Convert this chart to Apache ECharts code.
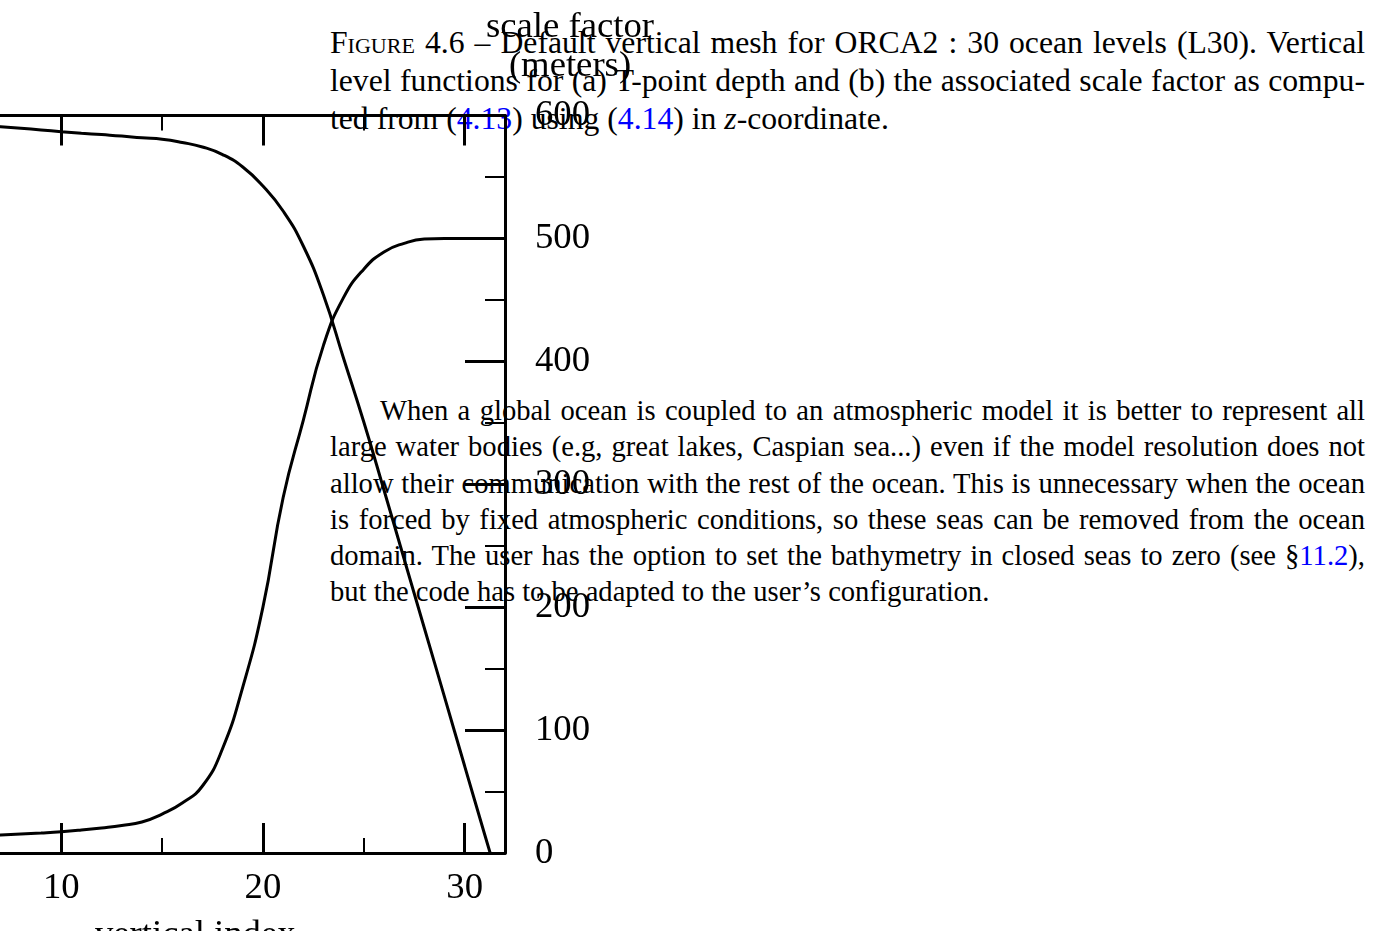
<!DOCTYPE html>
<html>
<head>
<meta charset="utf-8">
<title>ORCA2 L30 vertical mesh</title>
<script src="https://cdn.jsdelivr.net/npm/echarts@6/dist/echarts.min.js"></script>
<style>
html, body { margin: 0; padding: 0; background: #fff; }
body { width: 1376px; height: 931px; overflow: hidden; position: relative;
       font-family: "Liberation Serif", "Times New Roman", serif; color: #000; }
.txt { position: absolute; left: 330px; width: 1035px; }
.txt div { text-align: justify; text-align-last: justify; white-space: nowrap; }
.txt div.last { text-align-last: left; }
#caption { top: 24px; line-height: 38px; font-size: 31.7px; }
#para { top: 393px; line-height: 36.3px; font-size: 28.6px; }
.sc { font-variant: small-caps; }
.lnk { color: #0000ff; }
#main { position: absolute; left: -141px; top: 0; width: 1517px; height: 931px; }
</style>
</head>
<body>
<div id="caption" class="txt">
  <div><span class="sc">Figure</span> 4.6 – Default vertical mesh for ORCA2 : 30 ocean levels (L30). Vertical</div>
  <div>level functions for (a) T-point depth and (b) the associated scale factor as compu-</div>
  <div class="last">ted from (<span class="lnk">4.13</span>) using (<span class="lnk">4.14</span>) in <i>z</i>-coordinate.</div>
</div>
<div id="para" class="txt">
  <div style="padding-left:50px">When a global ocean is coupled to an atmospheric model it is better to represent all</div>
  <div>large water bodies (e.g, great lakes, Caspian sea...) even if the model resolution does not</div>
  <div>allow their communication with the rest of the ocean. This is unnecessary when the ocean</div>
  <div>is forced by fixed atmospheric conditions, so these seas can be removed from the ocean</div>
  <div>domain. The user has the option to set the bathymetry in closed seas to zero (see §<span class="lnk">11.2</span>),</div>
  <div class="last">but the code has to be adapted to the user’s configuration.</div>
</div>
<div id="main"></div>
<script>
// vertical index (model level)
var levels = [0, 1, 2, 3, 4, 5, 6, 7, 8, 9, 10, 11, 12, 13, 14, 15, 16,
              17, 18, 19, 20, 21, 22, 23, 24, 25, 26, 27, 28, 29, 30, 31, 32];
// scale factor e3 (meters), right axis
var scaleFactor = [9.1, 9.9, 10.7, 11.5, 12.3, 13.1, 13.9, 14.7, 15.5, 16.3, 17.3,
                   18.7, 20.4, 22.4, 25.2, 31.7, 40.7, 54.5, 85, 135, 200, 289,
                   352, 413, 452, 475, 489, 496, 499.5, 500, 500, 500, 500];
// T-point depth (meters), hidden left axis, downward
var depth = [0, 11, 23, 34, 46, 57, 69, 80, 91, 103, 115, 126, 136, 146, 159, 169,
             192, 224, 278, 367, 502, 680, 929, 1278, 1730, 2182, 2666, 3157, 3648,
             4139, 4631, 5122, 5606];

var FONT = 'Liberation Serif';

function pairs(xs, ys) {
    var out = [];
    for (var i = 0; i < xs.length; i++) out.push([xs[i], ys[i]]);
    return out;
}

function xAxisOf(pos, interval, tickLen, tickW, withLine) {
    return {
        type: 'value', position: pos, min: 0, max: 32, interval: interval,
        axisLine: { show: withLine, onZero: false, lineStyle: { color: '#000', width: 3 } },
        axisTick: { show: true, inside: true, length: tickLen, lineStyle: { color: '#000', width: tickW } },
        axisLabel: { show: false },
        splitLine: { show: false }
    };
}

var xMain = xAxisOf('bottom', 10, 30, 3, true);
xMain.axisLabel = {
    show: true, margin: 17, showMaxLabel: false, showMinLabel: false,
    fontFamily: FONT, fontSize: 36.7, color: '#000'
};
xMain.name = 'vertical index';
xMain.nameLocation = 'middle';
xMain.nameGap = 64;
xMain.nameTextStyle = { fontFamily: FONT, fontSize: 36.7, color: '#000', padding: [0, 0, 0, 26] };

var option = {
    animation: false,
    grid: { left: 0.5, right: 871, top: 115.5, bottom: 78, containLabel: false, outerBoundsMode: 'none' },
    xAxis: [
        xMain,
        xAxisOf('top', 10, 30, 3, true),
        xAxisOf('bottom', 5, 15, 2, false),
        xAxisOf('top', 5, 15, 2, false)
    ],
    yAxis: [
        {
            type: 'value', position: 'right', min: 0, max: 600, interval: 100,
            axisLine: { show: true, onZero: false, lineStyle: { color: '#000', width: 3 } },
            axisTick: { show: true, inside: true, length: 40, lineStyle: { color: '#000', width: 3 } },
            minorTick: { show: true, splitNumber: 2, length: 20, lineStyle: { color: '#000', width: 2 } },
            axisLabel: { margin: 30, padding: [8, 0, 0, 0], fontFamily: FONT, fontSize: 36.7, color: '#000' },
            splitLine: { show: false },
            name: 'scale factor\n(meters)',
            nameLocation: 'end',
            nameGap: 30,
            nameTextStyle: {
                fontFamily: FONT, fontSize: 36.7, color: '#000', lineHeight: 39,
                align: 'center', verticalAlign: 'bottom', padding: [0, 0, 0, 130]
            }
        },
        {
            type: 'value', position: 'left', min: 0, max: 5250, inverse: true, show: false,
            axisLine: { onZero: false }
        }
    ],
    series: [
        {
            name: 'scale factor', type: 'line', xAxisIndex: 0, yAxisIndex: 0,
            data: pairs(levels, scaleFactor), showSymbol: false, smooth: 0.5,
            lineStyle: { color: '#000', width: 3 }, clip: true
        },
        {
            name: 'depth', type: 'line', xAxisIndex: 0, yAxisIndex: 1,
            data: pairs(levels, depth), showSymbol: false, smooth: 0.5,
            lineStyle: { color: '#000', width: 3 }, clip: true
        }
    ]
};

var chart = echarts.init(document.getElementById('main'), null, { renderer: 'canvas' });
chart.setOption(option);
</script>
</body>
</html>
